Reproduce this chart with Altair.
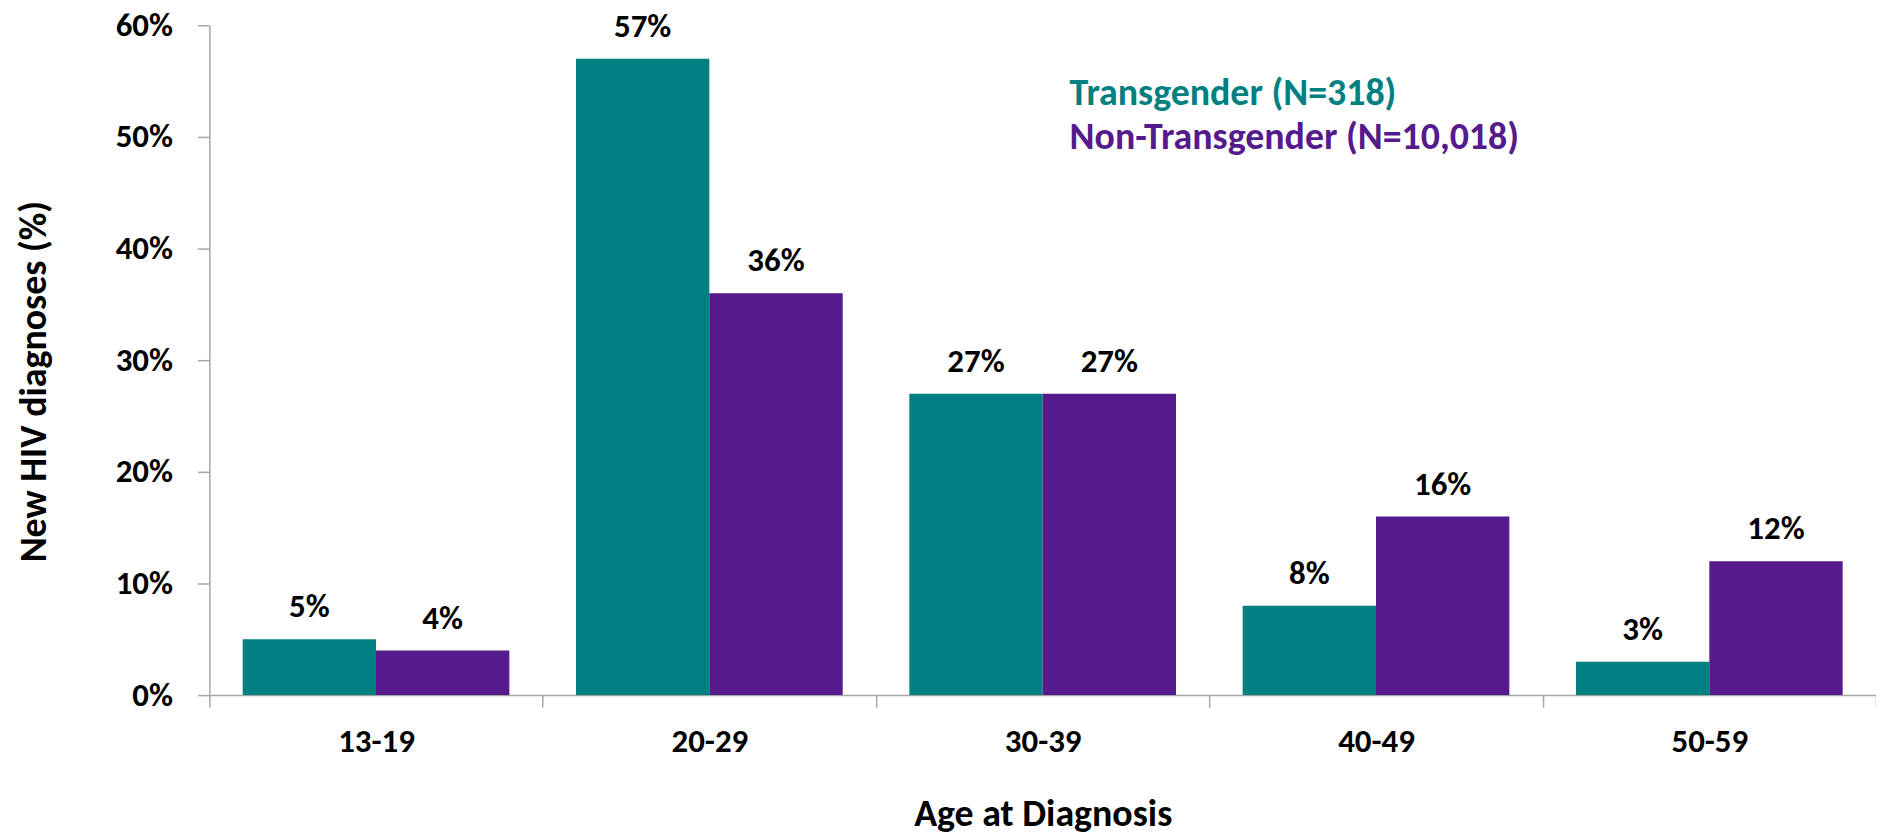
import altair as alt
import pandas as pd

ages = ["13-19", "20-29", "30-39", "40-49", "50-59"]
series = ["Transgender", "Non-Transgender"]
series_n = ["318", "10,018"]
transgender = [5, 57, 27, 8, 3]
non_transgender = [4, 36, 27, 16, 12]
colors = ["#008080", "#551a8b"]

rows = []
for a, t, n in zip(ages, transgender, non_transgender):
    rows.append({"age": a, "series": series[0], "value": t / 100})
    rows.append({"age": a, "series": series[1], "value": n / 100})
df = pd.DataFrame(rows)

leg = pd.DataFrame({
    "series": series,
    "label": [f"{s} (N={n})" for s, n in zip(series, series_n)],
    "ly": [69, 113],
})

FONT = "Carlito, Lato, sans-serif"
NUM_SIZE = 33
TXT_SIZE = 38
color_scale = alt.Scale(domain=series, range=colors)

x_enc = alt.X(
    "age:N",
    sort=ages,
    scale=alt.Scale(paddingInner=0, paddingOuter=0),
    axis=alt.Axis(
        title="Age at Diagnosis",
        labelAngle=0,
        labelFont=FONT,
        labelFontSize=NUM_SIZE,
        labelFontWeight="bold",
        labelColor="black",
        labelBaseline="middle",
        labelPadding=35,
        tickSize=12,
        tickBand="extent",
        tickColor="#a6a6a6",
        tickWidth=1.5,
        domainColor="#a6a6a6",
        domainWidth=1.5,
        titleFont=FONT,
        titleFontSize=TXT_SIZE,
        titleFontWeight="bold",
        titleColor="black",
        titleY=120,
        titleBaseline="middle",
    ),
)
xoff = alt.XOffset("series:N", sort=series,
                   scale=alt.Scale(paddingInner=0, paddingOuter=0.25))
y_enc = alt.Y(
    "value:Q",
    scale=alt.Scale(domain=[0, 0.6], nice=False),
    axis=alt.Axis(
        title="New HIV diagnoses (%)",
        format=".0%",
        values=[0, 0.1, 0.2, 0.3, 0.4, 0.5, 0.6],
        grid=False,
        labelFont=FONT,
        labelFontSize=NUM_SIZE,
        labelFontWeight="bold",
        labelColor="black",
        labelPadding=25,
        tickSize=12,
        tickColor="#a6a6a6",
        tickWidth=1.5,
        domainColor="#a6a6a6",
        domainWidth=1.5,
        titleFont=FONT,
        titleFontSize=TXT_SIZE,
        titleFontWeight="bold",
        titleColor="black",
        titleAngle=270,
        titleX=-175,
        titleY=357,
        titleAlign="center",
        titleBaseline="middle",
    ),
)

bars = alt.Chart(df).mark_bar().encode(
    x=x_enc,
    xOffset=xoff,
    y=y_enc,
    color=alt.Color("series:N", scale=color_scale, legend=None),
)

labels = alt.Chart(df).mark_text(
    font=FONT, fontSize=NUM_SIZE, fontWeight="bold", color="black",
    baseline="alphabetic", dy=-22,
).encode(
    x=alt.X("age:N", sort=ages),
    xOffset=xoff,
    y="value:Q",
    text=alt.Text("value:Q", format=".0%"),
)

legend = alt.Chart(leg).mark_text(
    font=FONT, fontSize=TXT_SIZE, fontWeight="bold", align="left", baseline="middle",
).encode(
    x=alt.value(863),
    y=alt.Y("ly:Q", scale=None),
    text="label:N",
    color=alt.Color("series:N", scale=color_scale, legend=None),
)

chart = alt.layer(bars, labels, legend).properties(
    width=1672,
    height=672,
    padding={"left": 202, "top": 16, "right": 0, "bottom": 140},
    autosize=alt.AutoSizeParams(type="none"),
).configure_view(stroke=None)

chart.save("out.html", embed_options={"renderer": "svg", "actions": False})
